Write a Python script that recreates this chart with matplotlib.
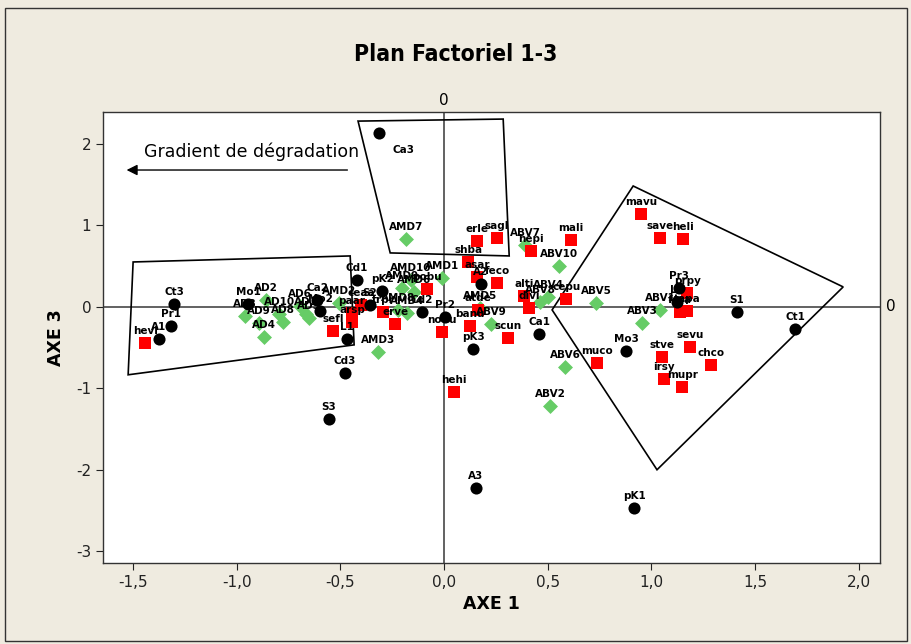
import matplotlib
matplotlib.use("Agg")
import matplotlib.pyplot as plt
from matplotlib.patches import Polygon, Rectangle

plt.rcParams["axes.unicode_minus"] = False

# stations (black circles)
st_names = ["Ca3", "Ct3", "Pr1", "A1", "Mo1", "Ca2", "Mo2", "Cd1", "pK2", "S2",
            "Cd2", "Pr2", "L1", "Cd3", "S3", "A2", "pK3", "Ca1", "A3", "Mo3",
            "pK1", "Pr3", "L3", "S1", "Ct1"]
st_x = [-0.314, -1.302, -1.317, -1.375, -0.945, -0.613, -0.598, -0.420, -0.299, -0.357,
        -0.106, 0.005, -0.468, -0.478, -0.555, 0.178, 0.140, 0.458, 0.154, 0.878,
        0.917, 1.134, 1.124, 1.413, 1.693]
st_y = [2.132, 0.037, -0.233, -0.392, 0.037, 0.086, -0.049, 0.331, 0.196, 0.025,
        -0.061, -0.123, -0.392, -0.809, -1.373, 0.282, -0.515, -0.331, -2.218, -0.539,
        -2.463, 0.233, 0.061, -0.061, -0.270]

# species (red squares)
sp_names = ["hevi", "sefl", "ceaa", "paar", "arsp", "trpr", "erve", "pobu", "nodu",
            "hehi", "shba", "asar", "erle", "sagl", "feco", "hepi", "mali", "alti",
            "divi", "atde", "banu", "scun", "cepu", "muco", "mavu", "save", "heli",
            "prpy", "fera", "tapa", "stve", "sevu", "chco", "irsy", "mupr"]
sp_x = [-1.442, -0.535, -0.400, -0.444, -0.444, -0.294, -0.236, -0.082, -0.010,
        0.048, 0.116, 0.159, 0.159, 0.256, 0.256, 0.420, 0.613, 0.386,
        0.410, 0.164, 0.125, 0.309, 0.589, 0.738, 0.950, 1.042, 1.153,
        1.172, 1.138, 1.172, 1.052, 1.187, 1.288, 1.061, 1.148]
sp_y = [-0.441, -0.294, 0.025, -0.074, -0.184, -0.061, -0.208, 0.221, -0.306,
        -1.042, 0.551, 0.368, 0.809, 0.846, 0.294, 0.686, 0.821, 0.135,
        -0.012, -0.037, -0.233, -0.380, 0.098, -0.686, 1.140, 0.846, 0.833,
        0.172, -0.061, -0.049, -0.613, -0.490, -0.711, -0.882, -0.980]

# sites (green diamonds)
si_names = ["AD2", "AD3", "AD9", "AD4", "AD10", "AD8", "AD6", "AD1", "AD5",
            "AMD2", "AMD9", "AMD10", "AMD6", "AMD8", "AMD4", "AMD1", "AMD3", "AMD7",
            "AMD5", "ABV9", "ABV7", "ABV10", "ABV8", "ABV4", "ABV5", "ABV1", "ABV3",
            "ABV6", "ABV2"]
si_x = [-0.859, -0.960, -0.892, -0.868, -0.796, -0.777, -0.695, -0.666, -0.651,
        -0.507, -0.203, -0.159, -0.145, -0.222, -0.178, -0.010, -0.318, -0.183,
        0.174, 0.227, 0.391, 0.555, 0.463, 0.502, 0.733, 1.042, 0.955,
        0.584, 0.511]
si_y = [0.086, -0.110, -0.196, -0.368, -0.086, -0.184, 0.012, -0.086, -0.135,
        0.049, 0.233, 0.331, 0.184, -0.037, -0.074, 0.355, -0.551, 0.833,
        -0.012, -0.208, 0.760, 0.502, 0.061, 0.123, 0.049, -0.037, -0.196,
        -0.735, -1.213]

# groupings drawn by hand on the original
poly_left = [(-1.500, 0.551), (-0.453, 0.625), (-0.434, -0.466), (-1.524, -0.833)]
poly_top = [(-0.415, 2.279), (0.285, 2.304), (0.314, 0.625), (-0.260, 0.662)]
poly_right = [(0.912, 1.483), (1.925, 0.245), (1.027, -1.998), (0.521, -0.037)]

xticks = [-1.5, -1.0, -0.5, 0.0, 0.5, 1.0, 1.5, 2.0]
xtick_labels = ["-1,5", "-1,0", "-0,5", "0,0", "0,5", "1,0", "1,5", "2,0"]
yticks = [-3, -2, -1, 0, 1, 2]

bg = "#efebe0"
fig = plt.figure(figsize=(9.12, 6.44), dpi=100, facecolor=bg)
ax = fig.add_axes([0.113, 0.126, 0.852, 0.700])
ax.set_facecolor("white")

ax.axhline(0, color="#555555", lw=1.3, zorder=1)
ax.axvline(0, color="#555555", lw=1.3, zorder=1)

for pts in (poly_left, poly_top, poly_right):
    ax.add_patch(Polygon(pts, closed=True, fill=False, edgecolor="black", lw=1.2, zorder=2))

ax.scatter(si_x, si_y, marker="D", s=58, color="#66cc66", zorder=3, linewidths=0)
ax.scatter(sp_x, sp_y, marker="s", s=76, color="#ff0000", zorder=4, linewidths=0)
ax.scatter(st_x, st_y, marker="o", s=76, color="black", zorder=5, linewidths=0)

offsets = {"Ca3": (18, -16)}
for names, xs, ys in ((si_names, si_x, si_y), (sp_names, sp_x, sp_y), (st_names, st_x, st_y)):
    for n, x, y in zip(names, xs, ys):
        dx, dy = offsets.get(n, (0, 5))
        ax.annotate(n, (x, y), xytext=(dx, dy), textcoords="offset points",
                    ha="center", va="bottom", fontsize=7.5, fontweight="bold", zorder=6)

# gradient arrow
ax.annotate("", xy=(-1.545, 1.679), xytext=(-0.453, 1.679),
            arrowprops=dict(arrowstyle="-|>", color="black", lw=1, mutation_scale=16))
ax.text(-0.93, 1.90, "Gradient de dégradation", ha="center", va="center", fontsize=12.5)

ax.set_xlim(-1.645, 2.103)
ax.set_ylim(-3.14, 2.39)
ax.set_xticks(xticks)
ax.set_xticklabels(xtick_labels)
ax.set_yticks(yticks)
ax.tick_params(labelsize=11, length=5, direction="out", colors="#222222")
for s in ax.spines.values():
    s.set_color("#333333")
    s.set_linewidth(1)

ax.text(0, 1.01, "0", transform=ax.get_xaxis_transform(), ha="center", va="bottom", fontsize=11)
ax.text(1.008, 0, "0", transform=ax.get_yaxis_transform(), ha="left", va="center", fontsize=11)

ax.set_xlabel("AXE 1", fontsize=12.5, fontweight="bold", labelpad=4)
ax.set_ylabel("AXE 3", fontsize=12.5, fontweight="bold", labelpad=8)
fig.text(0.5, 0.915, "Plan Factoriel 1-3", ha="center", va="center", fontsize=16.5,
         fontweight="bold", fontstretch="condensed")

fig.patches.append(Rectangle((0.006, 0.005), 0.988, 0.983, transform=fig.transFigure,
                             fill=False, edgecolor="#333333", lw=1))

fig.savefig("out.png", dpi=100, facecolor=bg)
